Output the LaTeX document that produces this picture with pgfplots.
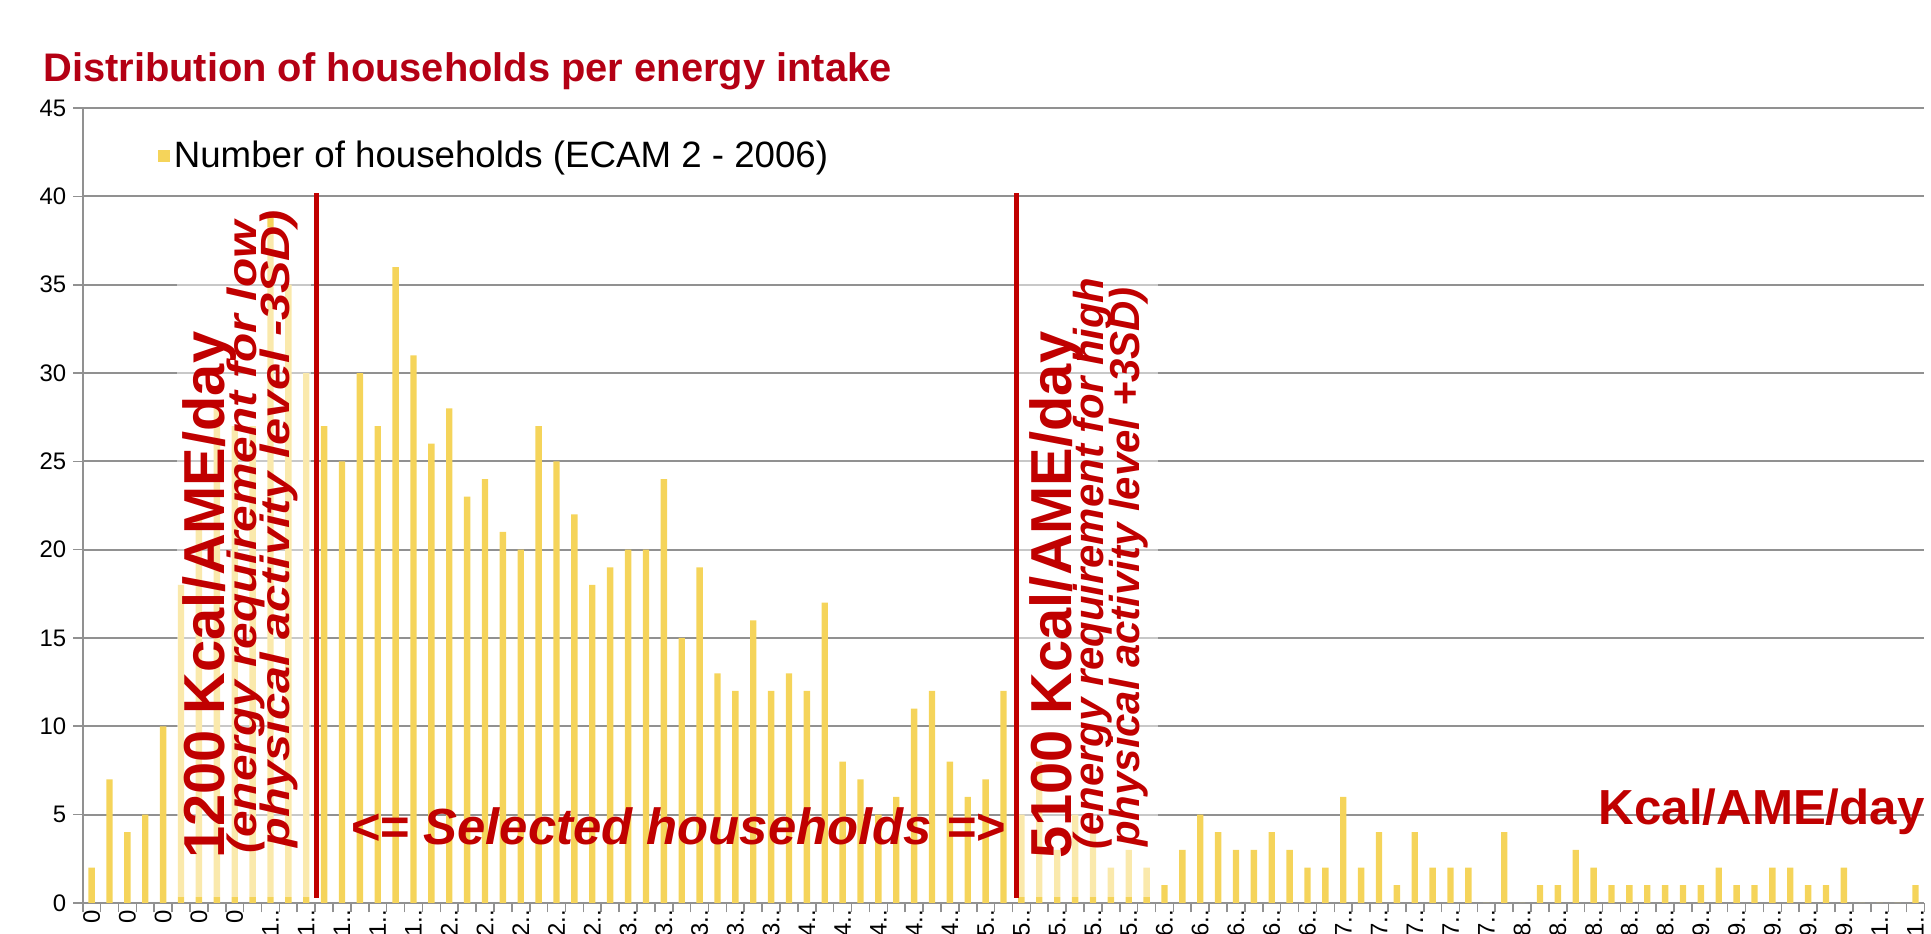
\documentclass[border=0pt]{standalone}
\usepackage{pgfplots}
\pgfplotsset{compat=1.18}
\usepackage{fontspec}
\setmainfont{Liberation Sans}
\definecolor{barcol}{RGB}{245,212,90}
\definecolor{darkred}{RGB}{192,0,0}
\definecolor{titlered}{RGB}{180,0,20}
\definecolor{gridcol}{RGB}{145,145,145}
\begin{document}
\begin{tikzpicture}
\path (0pt,0pt) rectangle (965.5pt,468.5pt);
\begin{axis}[
  at={(41.5pt,15.5pt)}, anchor=south west, scale only axis,
  width=924pt, height=398.75pt,
  xmin=-0.5, xmax=102.5, ymin=0, ymax=45,
  ytick={0,5,...,45},
  ymajorgrids, grid style={draw=gridcol, line width=1pt},
  axis x line*=bottom, axis y line*=left,
  axis line style={draw=gridcol, line width=1pt, -},
  tick align=outside, major tick length=4.75pt,
  tick style={draw=gridcol, line width=0.8pt},
  xtick={-0.5,0.5,...,102.5}, xticklabels={},
  extra x ticks={0,2,...,102},
  extra x tick labels={0,0,0,0,0,1..,1..,1..,1..,1..,2..,2..,2..,2..,2..,3..,3..,3..,3..,3..,4..,4..,4..,4..,4..,5..,5..,5..,5..,5..,6..,6..,6..,6..,6..,7..,7..,7..,7..,7..,8..,8..,8..,8..,8..,9..,9..,9..,9..,9..,1..,1..},
  extra x tick style={major tick length=0pt, xticklabel style={rotate=90, anchor=east, overlay, font=\fontsize{12}{12}\selectfont}},
  yticklabel style={font=\fontsize{12}{12}\selectfont},
  /pgf/number format/assume math mode=true,
  legend style={at={(axis description cs:0.0406,0.94)}, anchor=west, draw=none, fill=none, inner sep=0pt, font=\fontsize{18.4}{20}\selectfont},
  legend image code/.code={\fill[barcol] (0pt,-3pt) rectangle (6pt,3pt);},
]
\addplot[ybar, bar width=3.2pt, fill=barcol, draw=none] coordinates {
(0,2) (1,7) (2,4) (3,5) (4,10) (5,18) (6,22) (7,28) (8,27) (9,27) (10,39) (11,35) (12,30)
(13,27) (14,25) (15,30) (16,27) (17,36) (18,31) (19,26) (20,28) (21,23) (22,24) (23,21) (24,20) (25,27) (26,25) (27,22) (28,18) (29,19) (30,20) (31,20) (32,24) (33,15) (34,19) (35,13) (36,12) (37,16) (38,12) (39,13) (40,12) (41,17) (42,8) (43,7) (44,5) (45,6) (46,11) (47,12) (48,8) (49,6) (50,7) (51,12)
(52,5) (53,8) (54,3) (55,5) (56,4) (57,2) (58,3) (59,2) (60,1) (61,3) (62,5) (63,4) (64,3) (65,3) (66,4) (67,3) (68,2) (69,2) (70,6) (71,2) (72,4) (73,1) (74,4) (75,2) (76,2) (77,2) (78,0) (79,4) (80,0) (81,1) (82,1) (83,3) (84,2) (85,1) (86,1) (87,1) (88,1) (89,1) (90,1) (91,2) (92,1) (93,1) (94,2) (95,2) (96,1) (97,1) (98,2) (99,0) (100,0) (101,0) (102,1)
};
\addlegendentry{Number of households (ECAM 2 - 2006)}
\draw[darkred, line width=2.5pt] (axis cs:12.6,0.3) -- (axis cs:12.6,40.2);
\draw[darkred, line width=2.5pt] (axis cs:51.7,0.3) -- (axis cs:51.7,40.2);
\end{axis}
\begin{scope}[x=0.5pt,y=0.5pt]
\fill[white, opacity=0.5] (178,37) rectangle (312,709);
\fill[white, opacity=0.5] (1023,37) rectangle (1162,709);
\node[rotate=90, anchor=base west, inner sep=0pt, text=darkred, font=\bfseries\fontsize{29}{29}\selectfont] at (225,75) {1200 Kcal/AME/day};
\node[rotate=90, anchor=base west, inner sep=0pt, text=darkred, font=\bfseries\itshape\fontsize{20.5}{21}\selectfont] at (257,80) {\scalebox{1.17}[1]{(energy requirement for low}};
\node[rotate=90, anchor=base west, inner sep=0pt, text=darkred, font=\bfseries\itshape\fontsize{20.5}{21}\selectfont] at (290,86) {\scalebox{1.19}[1]{physical activity level -3SD)}};
\node[rotate=90, anchor=base west, inner sep=0pt, text=darkred, font=\bfseries\fontsize{29}{29}\selectfont] at (1075,75) {5100 Kcal/AME/day};
\node[rotate=90, anchor=base west, inner sep=0pt, text=darkred, font=\bfseries\itshape\fontsize{21}{21}\selectfont] at (1107,84) {(energy requirement for high};
\node[rotate=90, anchor=base west, inner sep=0pt, text=darkred, font=\bfseries\itshape\fontsize{21}{21}\selectfont] at (1143,87) {physical activity level +3SD)};
\node[anchor=base west, inner sep=0pt, text=darkred, font=\bfseries\itshape\fontsize{25.5}{26}\selectfont] at (351,90) {<= Selected households =>};
\node[anchor=base west, inner sep=0pt, text=darkred, font=\bfseries\fontsize{24.7}{25}\selectfont] at (1604,110) {Kcal/AME/day};
\node[anchor=base west, inner sep=0pt, text=titlered, font=\bfseries\fontsize{20}{20}\selectfont] at (43,855) {Distribution of households per energy intake};
\end{scope}
\end{tikzpicture}
\end{document}
